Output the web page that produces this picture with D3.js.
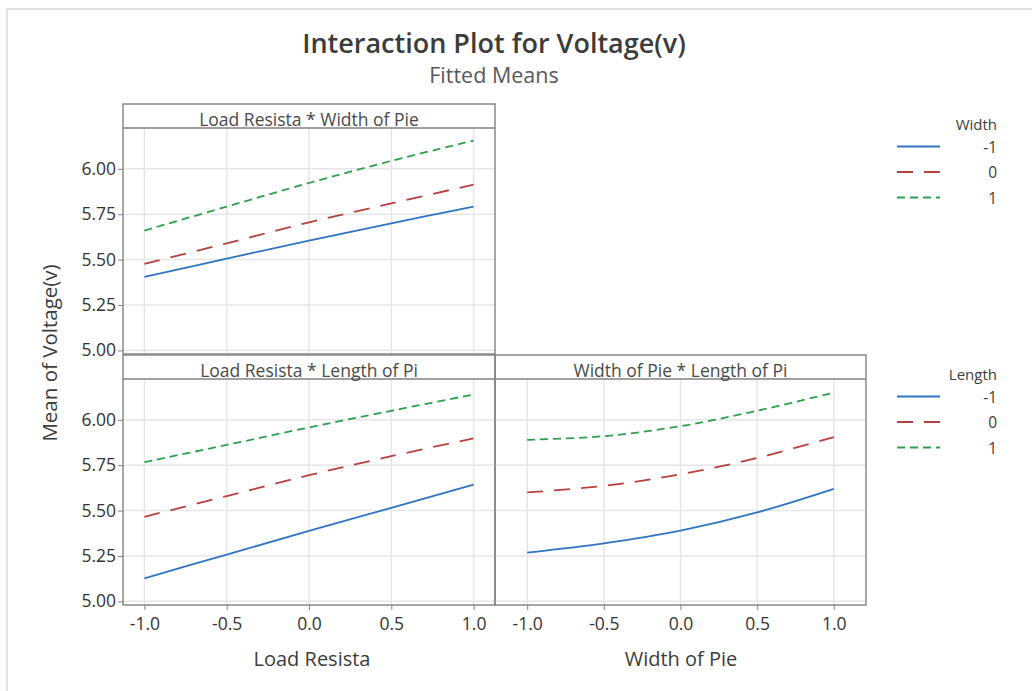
<!DOCTYPE html>
<html>
<head>
<meta charset="utf-8">
<script src="https://cdn.jsdelivr.net/npm/d3@7"></script>
<style>
  body { margin: 0; background: #fff; }
  svg { display: block; }
  text { font-family: "Open Sans", "Noto Sans", sans-serif; }
</style>
</head>
<body>
<svg id="chart" width="1032" height="691"></svg>
<script>
// levels on the x axis of each panel
const xLevels = [-1, -0.5, 0, 0.5, 1];
const xTicks = ['-1.0', '-0.5', '0.0', '0.5', '1.0'];
const yTicks = [5.00, 5.25, 5.50, 5.75, 6.00];
const levelNames = ['-1', '0', '1'];

// Load Resista * Width of Pie (one row per Width level)
const loadWidth = [
  [5.405, 5.505, 5.605, 5.70, 5.792],
  [5.476, 5.59, 5.705, 5.81, 5.913],
  [5.66, 5.792, 5.922, 6.044, 6.156]
];
// Load Resista * Length of Pi (one row per Length level)
const loadLength = [
  [5.127, 5.258, 5.388, 5.515, 5.643],
  [5.466, 5.58, 5.695, 5.80, 5.898],
  [5.767, 5.862, 5.958, 6.05, 6.14]
];
// Width of Pie * Length of Pi (one row per Length level)
const widthLength = [
  [5.269, 5.32, 5.39, 5.49, 5.62],
  [5.60, 5.636, 5.70, 5.79, 5.905],
  [5.89, 5.91, 5.965, 6.05, 6.15]
];

const colors = ['#2f74c0', '#b7403f', '#2ca04c'];
const dashes = [null, '16,11', '8,5'];

const svg = d3.select('#chart');

// outer frame of the graph window
svg.append('path').attr('d', 'M7,691V9H1032')
  .attr('fill', 'none').attr('stroke', '#e2e2e2').attr('stroke-width', 2);

svg.append('text').attr('x', 494).attr('y', 53).attr('text-anchor', 'middle')
  .attr('font-size', 27).attr('font-weight', 600).attr('fill', '#3c3c3c')
  .text('Interaction Plot for Voltage(v)');
svg.append('text').attr('x', 494).attr('y', 83).attr('text-anchor', 'middle')
  .attr('font-size', 21.5).attr('fill', '#595959')
  .text('Fitted Means');

const yDomain = [4.98, 6.225];

const panels = [
  {title: 'Load Resista * Width of Pie', x0: 123, x1: 495, top: 104, dom: 1.13, data: loadWidth, yAxis: true, xAxis: false},
  {title: 'Load Resista * Length of Pi', x0: 123, x1: 495, top: 355, dom: 1.13, data: loadLength, yAxis: true, xAxis: true},
  {title: 'Width of Pie * Length of Pi', x0: 495, x1: 866, top: 355, dom: 1.21, data: widthLength, yAxis: false, xAxis: true}
];

const headH = 24, plotH = 226;
const tickFont = 17.5;

panels.forEach(p => {
  const g = svg.append('g');
  const py0 = p.top + headH, py1 = py0 + plotH;
  const x = d3.scaleLinear().domain([-p.dom, p.dom]).range([p.x0, p.x1]);
  const y = d3.scaleLinear().domain(yDomain).range([py1, py0]);

  // grid
  g.selectAll('.vg').data(xLevels).enter().append('line')
    .attr('x1', d => x(d)).attr('x2', d => x(d)).attr('y1', py0).attr('y2', py1)
    .attr('stroke', '#e6e6e6').attr('stroke-width', 1.5);
  g.selectAll('.hg').data(yTicks).enter().append('line')
    .attr('x1', p.x0).attr('x2', p.x1).attr('y1', d => y(d)).attr('y2', d => y(d))
    .attr('stroke', '#e6e6e6').attr('stroke-width', 1.5);

  // fitted lines
  const line = d3.line().x((d, i) => x(xLevels[i])).y(d => y(d)).curve(d3.curveCatmullRom);
  p.data.forEach((row, k) => {
    g.append('path').attr('d', line(row)).attr('fill', 'none')
      .attr('stroke', colors[k]).attr('stroke-width', 1.8)
      .attr('stroke-dasharray', dashes[k]);
  });

  // header strip and frame
  g.append('rect').attr('x', p.x0).attr('y', p.top).attr('width', p.x1 - p.x0).attr('height', headH + plotH)
    .attr('fill', 'none').attr('stroke', '#808080').attr('stroke-width', 1.4);
  g.append('line').attr('x1', p.x0).attr('x2', p.x1).attr('y1', py0).attr('y2', py0)
    .attr('stroke', '#808080').attr('stroke-width', 1.4);
  g.append('text').attr('x', (p.x0 + p.x1) / 2).attr('y', p.top + 21.5).attr('text-anchor', 'middle')
    .attr('font-size', 17.5).attr('fill', '#4a4a4a').text(p.title);

  if (p.yAxis) {
    const ax = g.append('g').attr('transform', `translate(${p.x0},0)`)
      .call(d3.axisLeft(y).tickValues(yTicks).tickFormat(d3.format('.2f')).tickSize(5).tickPadding(2));
    ax.select('.domain').remove();
    ax.selectAll('line').attr('stroke', '#808080');
    ax.selectAll('text').attr('font-size', tickFont).attr('fill', '#333').attr('font-family', null);
  }
  if (p.xAxis) {
    const ax = g.append('g').attr('transform', `translate(0,${py1})`)
      .call(d3.axisBottom(x).tickValues(xLevels).tickFormat((d, i) => xTicks[i]).tickSize(5).tickPadding(8));
    ax.select('.domain').remove();
    ax.selectAll('line').attr('stroke', '#808080');
    ax.selectAll('text').attr('font-size', tickFont).attr('fill', '#333').attr('font-family', null);
  }
});

// axis titles
svg.append('text').attr('x', 312).attr('y', 666).attr('text-anchor', 'middle')
  .attr('font-size', 20).attr('fill', '#3c3c3c').text('Load Resista');
svg.append('text').attr('x', 681).attr('y', 666).attr('text-anchor', 'middle')
  .attr('font-size', 20).attr('fill', '#3c3c3c').text('Width of Pie');
svg.append('text').attr('transform', 'translate(57,353) rotate(-90)').attr('text-anchor', 'middle')
  .attr('font-size', 20.5).attr('fill', '#3c3c3c').text('Mean of Voltage(v)');

// legends
const legends = [{title: 'Width', y: 125}, {title: 'Length', y: 375}];
legends.forEach(l => {
  const g = svg.append('g');
  g.append('text').attr('x', 997).attr('y', l.y + 5).attr('text-anchor', 'end')
    .attr('font-size', 15).attr('fill', '#3c3c3c').text(l.title);
  levelNames.forEach((name, k) => {
    const yy = l.y + 21.5 + k * 25.5;
    g.append('line').attr('x1', 897).attr('x2', 940).attr('y1', yy).attr('y2', yy)
      .attr('stroke', colors[k]).attr('stroke-width', 1.8).attr('stroke-dasharray', dashes[k]);
    g.append('text').attr('x', 997).attr('y', yy + 6).attr('text-anchor', 'end')
      .attr('font-size', 15.5).attr('fill', '#3c3c3c').text(name);
  });
});
</script>
</body>
</html>
